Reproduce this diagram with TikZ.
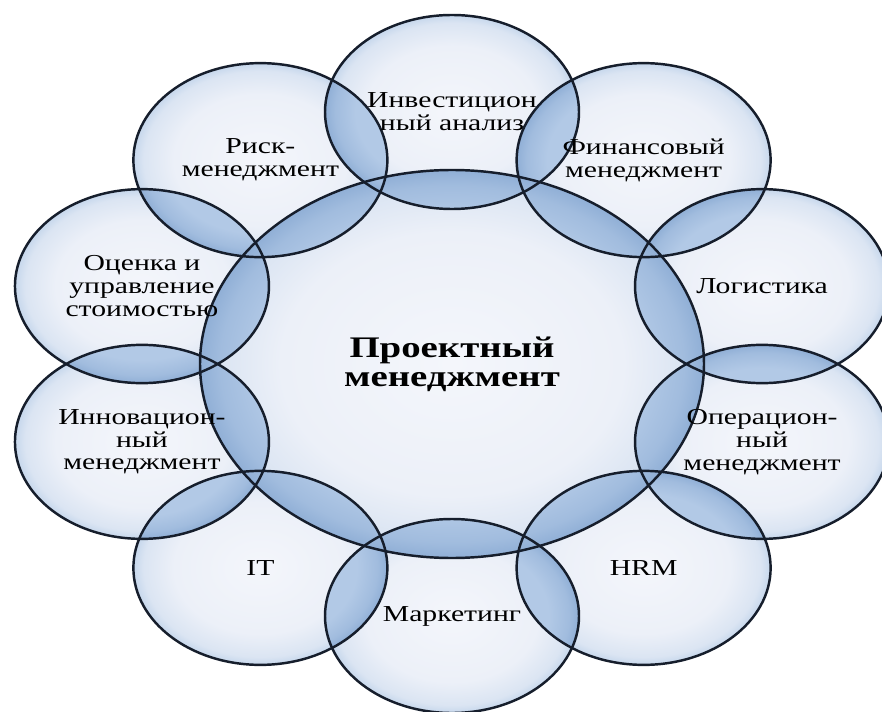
\documentclass[tikz,border=0pt]{standalone}
\usepackage{fontspec}
\setmainfont{Liberation Serif}[FakeStretch=1.3]
\usetikzlibrary{calc}

\definecolor{bubcore}{RGB}{244,246,251}
\definecolor{bubmid}{RGB}{236,240,248}
\definecolor{bubrim}{RGB}{198,215,236}
\definecolor{lenscore}{RGB}{178,201,230}
\definecolor{lensrim}{RGB}{144,175,214}
\definecolor{bubline}{RGB}{22,30,44}

\pgfdeclareradialshading{bubfill}{\pgfpoint{0bp}{0bp}}{color(0bp)=(bubcore); color(17bp)=(bubmid); color(23bp)=(bubmid!55!bubrim); color(25bp)=(bubrim); color(50bp)=(bubrim)}
\pgfdeclareradialshading{lensfill}{\pgfpoint{0bp}{0bp}}{color(0bp)=(lenscore); color(19bp)=(lenscore); color(23bp)=(lenscore!50!lensrim); color(25bp)=(lensrim); color(50bp)=(lensrim)}

\begin{document}
\begin{tikzpicture}[
    rim/.style={draw=bubline, line width=1.4pt},
    ringsize/.style={x radius=2.54, y radius=1.94},
    coresize/.style={x radius=5.04, y radius=3.88},
    topic/.style={align=center, inner sep=0pt, font=\fontsize{13}{13}\selectfont},
    pmtitle/.style={align=center, inner sep=0pt, font=\fontsize{17}{16.5}\selectfont\bfseries}]
    \useasboundingbox (0,0) rectangle (17.64,14.22);
    \coordinate (pm) at (9.04,6.94);
    \foreach \i/\a in {1/90,2/54,3/18,4/-18,5/-54,6/-90,7/-126,8/-162,9/162,10/126}
        \coordinate (b\i) at ($(pm)+(\a:6.52cm and 5.04cm)$);

    % bubbles
    \shade[shading=bubfill] (pm) ellipse [coresize];
    \foreach \i in {1,...,10}
        \shade[shading=bubfill] (b\i) ellipse [ringsize];

    % overlaps
    \foreach \i/\j in {1/2,2/3,3/4,4/5,5/6,6/7,7/8,8/9,9/10,10/1} {
        \begin{scope}
            \clip (b\i) ellipse [ringsize];
            \shade[shading=lensfill] (pm) ellipse [coresize];
            \shade[shading=lensfill] (b\j) ellipse [ringsize];
        \end{scope}
    }

    % outlines
    \draw[rim] (pm) ellipse [coresize];
    \foreach \i in {1,...,10}
        \draw[rim] (b\i) ellipse [ringsize];

    \node[pmtitle] (pmtext) at (pm) {Проектный\\менеджмент};
    \node[topic] (invest) at (b1) {Инвестицион\\ный анализ};
    \node[topic] (finance) at (b2) {Финансовый\\менеджмент};
    \node[topic] (logist) at (b3) {Логистика};
    \node[topic] (operat) at (b4) {Операцион-\\ный\\менеджмент};
    \node[topic] (hrm) at (b5) {HRM};
    \node[topic] (market) at (b6) {Маркетинг};
    \node[topic] (it) at (b7) {IT};
    \node[topic] (innov) at (b8) {Инновацион-\\ный\\менеджмент};
    \node[topic] (value) at (b9) {Оценка и\\управление\\стоимостью};
    \node[topic] (risk) at (b10) {Риск-\\менеджмент};
\end{tikzpicture}
\end{document}
